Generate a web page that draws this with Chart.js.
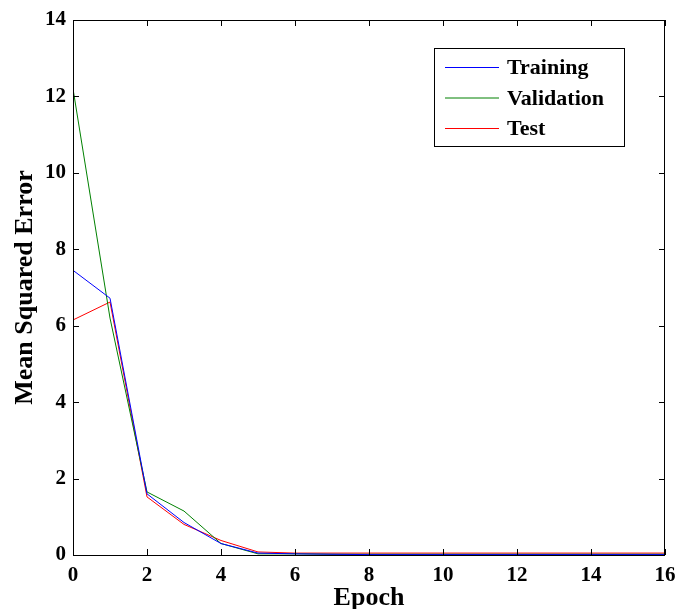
<!DOCTYPE html>
<html>
<head>
<meta charset="utf-8">
<script src="https://cdn.jsdelivr.net/npm/chart.js@4.4.1/dist/chart.umd.min.js"></script>
<style>
  html, body { margin: 0; padding: 0; background: #fff; }
  #wrap { width: 678px; height: 609px; }
</style>
</head>
<body>
<div id="wrap"><canvas id="mseChart" width="678" height="609"></canvas></div>
<script>
// datos
const epochs = [0, 1, 2, 3, 4, 5, 6, 7, 8, 9, 10, 11, 12, 13, 14, 15, 16];
const training = [7.45, 6.72, 1.6, 0.85, 0.3, 0.05, 0.03, 0.02, 0.01, 0.01, 0.01, 0.01, 0.01, 0.01, 0.01, 0.01, 0.01];
const validation = [12.2, 6.2, 1.65, 1.15, 0.3, 0.03, 0.03, 0.02, 0.02, 0.02, 0.02, 0.02, 0.02, 0.02, 0.02, 0.02, 0.02];
const test = [6.15, 6.62, 1.52, 0.8, 0.38, 0.08, 0.05, 0.05, 0.05, 0.05, 0.05, 0.05, 0.05, 0.05, 0.05, 0.05, 0.05];
const xTicks = [0, 2, 4, 6, 8, 10, 12, 14, 16];
const yTicks = [0, 2, 4, 6, 8, 10, 12, 14];

const FONT = "'Liberation Serif', 'Times New Roman', serif";

function toPoints(values) {
  return epochs.map((e, i) => ({ x: e, y: values[i] }));
}

// caja, marcas hacia adentro y leyenda estilo matlab
const matlabBox = {
  id: 'matlabBox',
  afterDatasetsDraw(chart) {
    const { ctx, chartArea: a, scales } = chart;
    ctx.save();
    ctx.strokeStyle = '#000';
    ctx.lineWidth = 1;
    ctx.strokeRect(a.left + 0.5, a.top + 0.5, a.right - a.left - 1, a.bottom - a.top);

    const len = 6;
    ctx.beginPath();
    xTicks.forEach(v => {
      const px = Math.round(scales.x.getPixelForValue(v)) + 0.5;
      ctx.moveTo(px, a.bottom); ctx.lineTo(px, a.bottom - len);
      ctx.moveTo(px, a.top); ctx.lineTo(px, a.top + len);
    });
    yTicks.forEach(v => {
      const py = Math.round(scales.y.getPixelForValue(v)) + 0.5;
      ctx.moveTo(a.left, py); ctx.lineTo(a.left + len, py);
      ctx.moveTo(a.right, py); ctx.lineTo(a.right - len, py);
    });
    ctx.stroke();

    // leyenda
    const bx = 434.5, by = 48.5, bw = 190, bh = 98;
    ctx.fillStyle = '#fff';
    ctx.fillRect(bx, by, bw, bh);
    ctx.strokeRect(bx, by, bw, bh);
    ctx.font = 'bold 22px ' + FONT;
    ctx.textBaseline = 'middle';
    chart.data.datasets.forEach((ds, i) => {
      const y = 67.5 + i * 30.5;
      ctx.strokeStyle = ds.borderColor;
      ctx.beginPath();
      ctx.moveTo(445, y); ctx.lineTo(499, y);
      ctx.stroke();
      ctx.fillStyle = '#000';
      ctx.fillText(ds.label, 507, y + 1);
    });
    ctx.restore();
  }
};

const ctx = document.getElementById('mseChart').getContext('2d');

const chart = new Chart(ctx, {
  type: 'line',
  data: {
    datasets: [
      { label: 'Training', data: toPoints(training), borderColor: '#0000ff' },
      { label: 'Validation', data: toPoints(validation), borderColor: '#008000' },
      { label: 'Test', data: toPoints(test), borderColor: '#ff0000' }
    ]
  },
  options: {
    responsive: false,
    animation: false,
    layout: { padding: { left: 0, right: 13, top: 20, bottom: 0 } },
    elements: {
      line: { borderWidth: 1, tension: 0 },
      point: { radius: 0 }
    },
    plugins: {
      legend: { display: false },
      tooltip: { enabled: false }
    },
    scales: {
      x: {
        type: 'linear',
        min: 0,
        max: 16,
        afterFit(scale) {
          scale.height = 54;
          scale.paddingLeft = 0;
          scale.paddingRight = 0;
        },
        afterBuildTicks(scale) { scale.ticks = xTicks.map(v => ({ value: v })); },
        grid: { drawOnChartArea: false, drawTicks: false },
        border: { display: false },
        ticks: { color: '#000', padding: 8, maxRotation: 0, font: { family: FONT, size: 21, weight: 'bold' } },
        title: {
          display: true,
          text: 'Epoch',
          color: '#000',
          padding: { top: 0, bottom: 0 },
          font: { family: FONT, size: 26, weight: 'bold', lineHeight: 0.85 }
        }
      },
      y: {
        min: 0,
        max: 14,
        afterFit(scale) {
          scale.width = 73;
          scale.paddingTop = 0;
          scale.paddingBottom = 0;
        },
        afterBuildTicks(scale) { scale.ticks = yTicks.map(v => ({ value: v })); },
        grid: { drawOnChartArea: false, drawTicks: false },
        border: { display: false },
        ticks: { color: '#000', padding: 7, font: { family: FONT, size: 21, weight: 'bold' } },
        title: {
          display: true,
          text: 'Mean Squared Error',
          color: '#000',
          padding: { top: 12, bottom: 0 },
          font: { family: FONT, size: 26, weight: 'bold', lineHeight: 1 }
        }
      }
    }
  },
  plugins: [matlabBox]
});
</script>
</body>
</html>
